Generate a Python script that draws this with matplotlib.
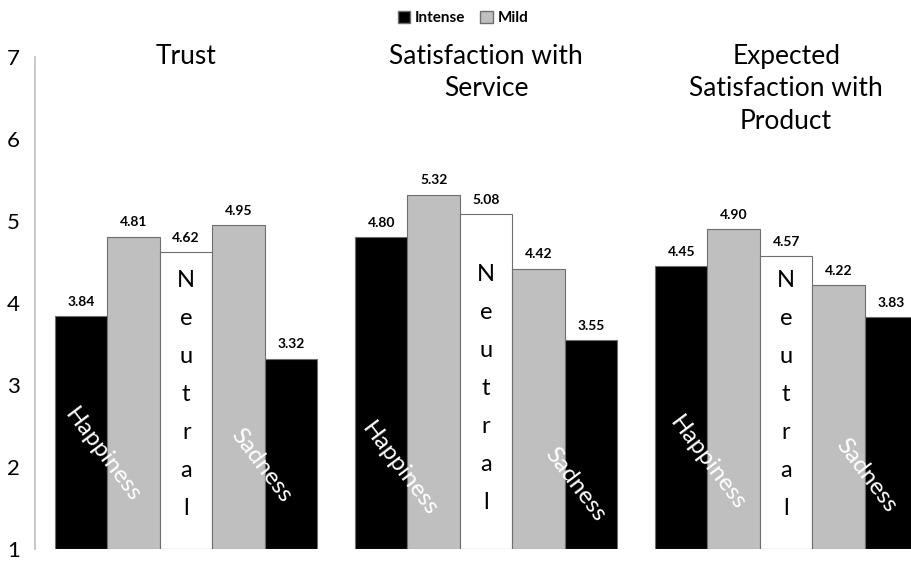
import numpy as np
import matplotlib.pyplot as plt
from matplotlib.patches import Patch

plt.rcParams['font.family'] = ['Lato', 'DejaVu Sans']

# Datos
titulos = ['Trust', 'Satisfaction with\nService', 'Expected\nSatisfaction with\nProduct']
barras = ['Happiness intense', 'Happiness mild', 'Neutral', 'Sadness mild', 'Sadness intense']
trust = [3.84, 4.81, 4.62, 4.95, 3.32]
servicio = [4.80, 5.32, 5.08, 4.42, 3.55]
producto = [4.45, 4.90, 4.57, 4.22, 3.83]
valores = [trust, servicio, producto]

colores = ['black', '#bfbfbf', 'white', '#bfbfbf', 'black']
borde = '#6e6e6e'

paso = 5.714  # separación entre grupos

fig = plt.figure(figsize=(9.11, 5.62), dpi=100)
ax = fig.add_axes([35/911, 13/562, 876/911, 492/562])

for g, vals in enumerate(valores):
    xs = g*paso + np.arange(5)
    ax.bar(xs, np.array(vals) - 1, bottom=1, width=1.0, color=colores,
           edgecolor=borde, linewidth=0.8)
    for x, v in zip(xs, vals):
        ax.annotate(f'{v:.2f}', (x, v), xytext=(0, 6), textcoords='offset points',
                    ha='center', va='bottom', fontsize=10, fontweight='bold')
    ax.text(g*paso + 2, 7.16, titulos[g], ha='center', va='top', fontsize=19,
            linespacing=1.38, clip_on=False)

# Etiquetas dentro de las barras
pos_happy = [(0.41, 2.15), (0.36, 1.97), (0.50, 2.05)]
pos_sad = [(3.44, 2.02), (3.69, 1.79), (3.52, 1.90)]
pos_neutral = [2.88, 2.96, 2.88]
for g in range(3):
    hx, hy = pos_happy[g]
    ax.text(g*paso + hx, hy, 'Happiness', color='white', fontsize=17.5,
            rotation=-53, ha='center', va='center', rotation_mode='anchor')
    sx, sy = pos_sad[g]
    ax.text(g*paso + sx, sy, 'Sadness', color='white', fontsize=17.5,
            rotation=-53, ha='center', va='center', rotation_mode='anchor', clip_on=True)
    ax.text(g*paso + 2, pos_neutral[g], '\n'.join('Neutral'), color='black',
            fontsize=17, ha='center', va='center', linespacing=2.0)

ax.set_ylim(1, 7)
ax.set_xlim(-0.88, 15.806)
ax.set_yticks(range(1, 8))
ax.set_xticks([])
ax.tick_params(axis='y', length=0, labelsize=16, pad=11)
for s in ['top', 'right', 'bottom']:
    ax.spines[s].set_visible(False)
ax.spines['left'].set_color('#bfbfbf')
ax.spines['left'].set_linewidth(1.2)

handles = [Patch(facecolor='black', edgecolor=borde, label='Intense'),
           Patch(facecolor='#bfbfbf', edgecolor=borde, label='Mild')]
fig.legend(handles=handles, loc='center', bbox_to_anchor=(463/911, 1 - 18/562),
           ncol=2, frameon=False, prop={'size': 11, 'weight': 'bold'},
           handlelength=0.8, handleheight=0.8, handletextpad=0.3, columnspacing=1.0)

fig.savefig('out.png', dpi=100)
